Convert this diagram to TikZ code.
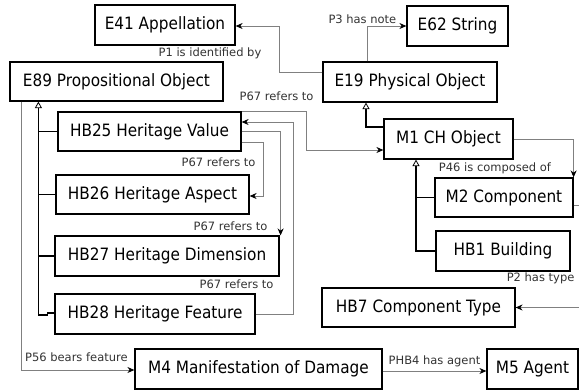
\documentclass[tikz,border=0pt]{standalone}
\usepackage{fontspec}
\setmainfont{DejaVu Sans}
\newfontfamily\condfont{DejaVu Sans Condensed}
\usepackage{tikz}
\usetikzlibrary{arrows.meta,calc}

\begin{document}
\begin{tikzpicture}[x=1pt,y=-1pt,>={Stealth[length=7pt,width=6pt,black]}]
  \tikzstyle{class}=[rectangle,draw=black,line width=1.2pt,fill=white,text=black,
                     minimum height=40pt,inner sep=0pt,font=\condfont\fontsize{17}{20}\selectfont]
  \tikzstyle{prop}=[->,draw=black!50,line width=0.9pt]
  \tikzstyle{isa}=[draw=black,line width=1.1pt]
  \tikzstyle{sub}=[isa,-{Triangle[length=6.5pt,width=7pt,fill=white,line width=0.8pt]}]
  \tikzstyle{lbl}=[inner sep=0pt,text=black!80,font=\fontsize{11.5}{13}\selectfont]

  \fill[white] (0,0) rectangle (579,391);
  \useasboundingbox (0,0) rectangle (579,391);

  \node[class,minimum width=140pt] (e41) at (165,25) {E41 Appellation};
  \node[class,minimum width=101pt] (e62) at (457.5,26) {E62 String};
  \node[class,minimum width=213pt,minimum height=39pt] (e89) at (116.5,81.5) {E89 Propositional Object};
  \node[class,minimum width=174pt] (e19) at (410,82) {E19 Physical Object};
  \node[class,minimum width=183pt,minimum height=39pt] (hb25) at (149.5,131.5) {HB25 Heritage Value};
  \node[class,minimum width=193pt,minimum height=39pt] (hb26) at (152.5,194.5) {HB26 Heritage Aspect};
  \node[class,minimum width=224pt] (hb27) at (167,256) {HB27 Heritage Dimension};
  \node[class,minimum width=200pt] (hb28) at (155,314) {HB28 Heritage Feature};
  \node[class,minimum width=247pt] (m4) at (258.5,369) {M4 Manifestation of Damage};
  \node[class,minimum width=91pt] (m5) at (532.5,369) {M5 Agent};
  \node[class,minimum width=129pt] (m1) at (448.5,139) {M1 CH Object};
  \node[class,minimum width=138pt,minimum height=39pt] (m2) at (504,197.5) {M2 Component};
  \node[class,minimum width=134pt] (hb1) at (503,251) {HB1 Building};
  \node[class,minimum width=193pt,minimum height=39pt] (hb7) at (418.5,307.5) {HB7 Component Type};

  % properties
  \draw[prop] ($(e19.west)+(0,-10)$) -| ($(e41.east)+(44,1)$) -- ($(e41.east)+(0,1)$)
    node[lbl] (l-p1) at ($(e41.south)+(45,8)$) {P1 is identified by};
  \draw[prop] ($(e19.north)+(-43,0)$) |- (e62.west)
    node[lbl] (l-p3) at ($(e62.west)+(-44,-7)$) {P3 has note};
  \draw[prop] (hb25.north east) -- ++(65,0) |- ($(m1.west)+(0,11)$)
    node[lbl] (l-hb25m1) at ($(hb25.north east)+(35,-15)$) {P67 refers to};
  \draw[prop] ($(hb25.east)+(0,10.5)$) -- ++(22,0) |- ($(hb26.east)+(0,1.5)$)
    node[lbl] (l-hb26) at ($(hb26.north east)+(-31,-12)$) {P67 refers to};
  \draw[prop] (hb25.east) -| ($(hb27.north east)+(1,0)$)
    node[lbl] (l-hb27) at ($(hb27.north east)+(-49,-9)$) {P67 refers to};
  \draw[prop] (hb28.east) -- ++(38,0) |- ($(hb25.east)+(0,-9.5)$)
    node[lbl] (l-hb28) at ($(hb28.north east)+(-19,-9)$) {P67 refers to};
  \draw[prop] (m1.east) -| (m2.north east)
    node[lbl] (l-p46) at ($(m2.north)+(-9,-9)$) {P46 is composed of};
  \draw[prop] ($(m2.east)+(0,7.5)$) -- ++(10,0) |- (hb7.east)
    node[lbl] (l-p2) at ($(hb7.north east)+(25,-9)$) {P2 has type};
  \draw[prop] ($(e89.south west)+(12,0)$) |- ($(m4.west)+(0,1)$)
    node[lbl] (l-p56) at ($(m4.west)+(-58,-12)$) {P56 bears feature};
  \draw[prop] ($(m4.east)+(0,2)$) -- ($(m5.west)+(0,2)$)
    node[lbl,midway,above=4pt] (l-phb4) {PHB4 has agent};

  % subclasses
  \draw[sub] ($(m1.west)+(0,-12)$) -| ($(e19.south)+(-44,0)$);
  \draw[sub] (hb1.west) -| ($(m1.south)+(-32.5,0)$);
  \draw[isa] (m2.west) -- ++(-19,0);
  \draw[sub] ($(hb28.west)+(0,-1)$) -- ++(-7,0) -- ++(0,2) -| ($(e89.south west)+(29,0)$);
  \draw[isa] (hb25.west) -- ++(-19,0);
  \draw[isa] (hb26.west) -- ++(-17,0);
  \draw[isa] (hb27.west) -- ++(-16,0);

\end{tikzpicture}
\end{document}
